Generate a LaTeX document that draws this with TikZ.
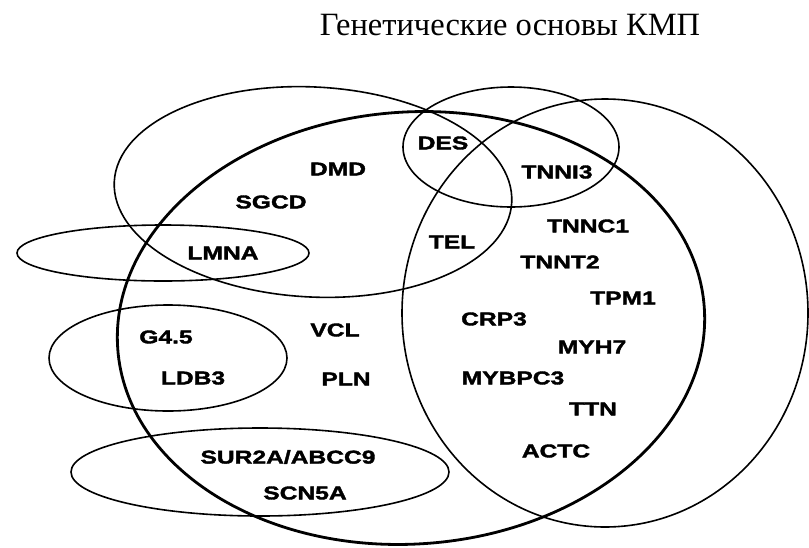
\documentclass[tikz,border=0pt]{standalone}
\usepackage{fontspec}
\usepackage{tikz}
\setmainfont{Liberation Serif}
\newfontfamily\genefont[FakeStretch=1.33,FakeBold=2]{Liberation Sans Bold}

\begin{document}
\begin{tikzpicture}[x=1pt,y=-1pt,
    venn/.style={draw=black, line width=1.6pt},
    main/.style={draw=black, line width=2.8pt}]
    \useasboundingbox (0,0) rectangle (809,547);
    \node[font=\fontsize{32.5}{38}\selectfont, anchor=base] (title) at (510,35) {Генетические основы КМП};

    % circles
    \draw[venn] (605,313) ellipse [x radius=203, y radius=214];
    \draw[venn, rotate around={-3:(313,192)}] (313,192) ellipse [x radius=199, y radius=105];
    \draw[venn] (511,147) ellipse [x radius=108, y radius=60];
    \draw[venn] (163,253) ellipse [x radius=146, y radius=28];
    \draw[venn] (168,358) ellipse [x radius=119, y radius=53];
    \draw[venn] (260,472) ellipse [x radius=189, y radius=44];
    \draw[main, rotate around={4:(411,328)}] (411,328) ellipse [x radius=294, y radius=216];

    \begin{scope}[every node/.style={font=\genefont\fontsize{18.5}{20}\selectfont}]
        \node (DES) at (443,143) {DES};
        \node (DMD) at (338,169) {DMD};
        \node (TNNI3) at (557,172) {TNNI3};
        \node (SGCD) at (271,202) {SGCD};
        \node (TNNC1) at (588,226) {TNNC1};
        \node (TEL) at (452,242) {TEL};
        \node (LMNA) at (223,253) {LMNA};
        \node (TNNT2) at (560,262) {TNNT2};
        \node (TPM1) at (623,298) {TPM1};
        \node (CRP3) at (494,319) {CRP3};
        \node (VCL) at (335,330) {VCL};
        \node (G45) at (166,337) {G4.5};
        \node (MYH7) at (592,347) {MYH7};
        \node (LDB3) at (193,378) {LDB3};
        \node (PLN) at (346,379) {PLN};
        \node (MYBPC3) at (513,378) {MYBPC3};
        \node (TTN) at (593,409) {TTN};
        \node (ACTC) at (556,451) {ACTC};
        \node (SUR2A) at (288,457) {SUR2A/ABCC9};
        \node (SCN5A) at (305,493) {SCN5A};
    \end{scope}
\end{tikzpicture}
\end{document}
